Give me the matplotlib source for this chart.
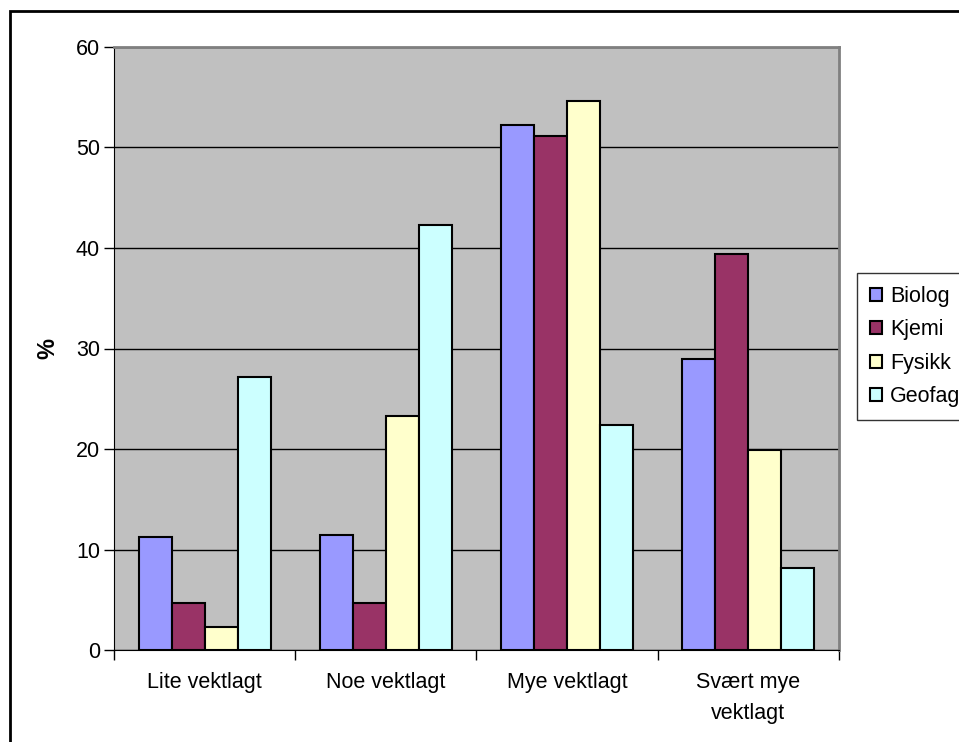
import matplotlib.pyplot as plt
import numpy as np
from matplotlib.patches import Rectangle

plt.rcParams['font.family'] = ['Liberation Sans', 'DejaVu Sans']

categories = ['Lite vektlagt', 'Noe vektlagt', 'Mye vektlagt', 'Svært mye\nvektlagt']
series = ['Biolog', 'Kjemi', 'Fysikk', 'Geofag']
biolog = [11.2, 11.4, 52.2, 29.0]
kjemi = [4.7, 4.7, 51.1, 39.4]
fysikk = [2.3, 23.3, 54.6, 19.9]
geofag = [27.2, 42.3, 22.4, 8.2]
colors = ['#9999FF', '#993366', '#FFFFCC', '#CCFFFF']

W, H = 959, 742
fs = 15.5
fig = plt.figure(figsize=(W / 100, H / 100), dpi=100)
# plot area in pixel coords: left 114, right 839, top 47, bottom 650
ax = fig.add_axes([114 / W, 1 - 650 / H, (839 - 114) / W, (650 - 47) / H])
ax.set_facecolor('#C0C0C0')

x = np.arange(len(categories))
bw = 33 / 181.25
for i, (name, vals) in enumerate(zip(series, [biolog, kjemi, fysikk, geofag])):
    ax.bar(x + (i - 1.5) * bw, vals, bw, color=colors[i], edgecolor='black',
           linewidth=1.5, label=name, zorder=3)

ax.set_xlim(-0.5, len(categories) - 0.5)
ax.set_ylim(0, 60)
ax.set_yticks(range(0, 61, 10))
ax.yaxis.grid(True, color='black', linewidth=1, zorder=1)
ax.set_axisbelow(True)

ax.set_xticks(x)
ax.set_xticklabels(categories, fontsize=fs, linespacing=1.6)
ax.set_xticks(np.arange(-0.5, len(categories)), minor=True)
ax.tick_params(axis='x', which='major', length=0, pad=16)
ax.tick_params(axis='x', which='minor', length=7, width=1, direction='out')
ax.tick_params(axis='y', length=7, width=1, direction='out', labelsize=fs, pad=3)

for side in ['top', 'right']:
    ax.spines[side].set_color('#808080')
    ax.spines[side].set_linewidth(2)
ax.spines['left'].set_color('black')
ax.spines['bottom'].set_color('black')

ax.set_ylabel('%', fontsize=17, fontweight='bold', labelpad=12)

leg = fig.legend(loc='upper left', bbox_to_anchor=(857 / W, 1 - 273 / H),
                 fontsize=fs, frameon=True, fancybox=False, edgecolor='black',
                 handlelength=0.55, handleheight=0.55, handletextpad=0.4,
                 labelspacing=0.58, borderpad=0.6, borderaxespad=0)
leg.get_frame().set_linewidth(1)

# outer chart border, running off the right and bottom edges
fig.patches.append(Rectangle((10 / W, -0.05), 1.2, 1 - 11 / H + 0.05,
                             transform=fig.transFigure, fill=False,
                             edgecolor='black', linewidth=2))

fig.savefig('out.png', dpi=100)
